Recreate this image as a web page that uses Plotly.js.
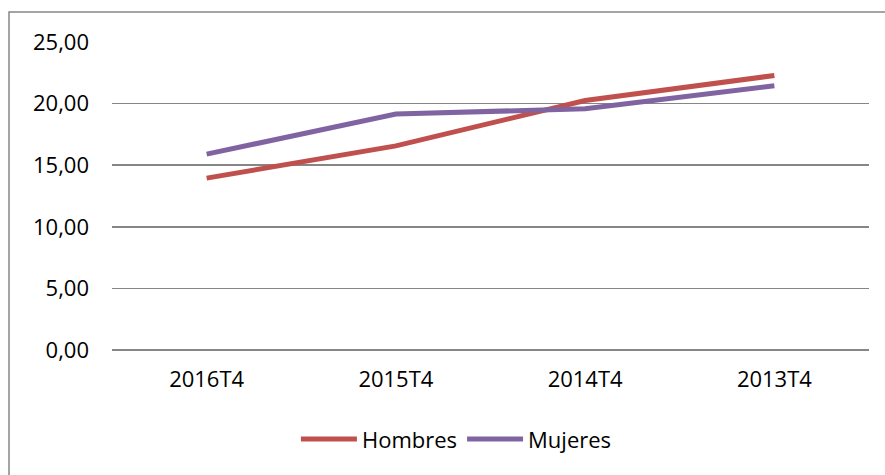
<!DOCTYPE html>
<html>
<head>
<meta charset="utf-8">
<script src="https://cdn.plot.ly/plotly-3.0.1.min.js"></script>
<style>html,body{margin:0;padding:0;background:#fff;}#chart{width:885px;height:475px;}</style>
</head>
<body>
<div id="chart"></div>
<script>
const categories = ["2016T4", "2015T4", "2014T4", "2013T4"];
const hombres = [13.95, 16.57, 20.25, 22.28];
const mujeres = [15.9, 19.15, 19.58, 21.45];
const yTicks = [0, 5, 10, 15, 20, 25];
const yTickLabels = ["0,00", "5,00", "10,00", "15,00", "20,00", "25,00"];

const FONT = "Open Sans, sans-serif";
const traces = [
  {x: categories, y: hombres, name: "Hombres", type: "scatter", mode: "lines",
   line: {color: "#C0504D", width: 5}},
  {x: categories, y: mujeres, name: "Mujeres", type: "scatter", mode: "lines",
   line: {color: "#8064A2", width: 5}}
];
const layout = {
  width: 885, height: 475,
  margin: {l: 112, r: 16, t: 42, b: 125},
  paper_bgcolor: "#fff", plot_bgcolor: "#fff",
  font: {family: FONT, size: 22, color: "#000"},
  showlegend: true,
  legend: {orientation: "h", x: 0.455, xanchor: "center", y: -0.29, yanchor: "middle",
           font: {family: FONT, size: 22, color: "#000"}, itemwidth: 56, tracegroupgap: 0},
  xaxis: {type: "category", range: [-0.5, 3.5], showgrid: false, zeroline: false,
          showline: false, ticks: "", ticklabelstandoff: 14,
          tickfont: {family: FONT, size: 22, color: "#000"}},
  yaxis: {range: [0, 25], tickvals: yTicks, ticktext: yTickLabels, showgrid: true,
          gridcolor: "#868686", gridwidth: 1.5, zeroline: true, zerolinecolor: "#868686",
          zerolinewidth: 2, showline: false, ticks: "", ticklabelstandoff: 22,
          tickfont: {family: FONT, size: 22, color: "#000"}},
  shapes: [{type: "rect", xref: "paper", yref: "paper",
            x0: (9 - 112) / 757, x1: 1.2, y0: -1, y1: (350 - 12) / 308,
            line: {color: "#868686", width: 1.5}, fillcolor: "rgba(0,0,0,0)", layer: "below"}]
};
Plotly.newPlot("chart", traces, layout, {displayModeBar: false, staticPlot: true});
</script>
</body>
</html>
